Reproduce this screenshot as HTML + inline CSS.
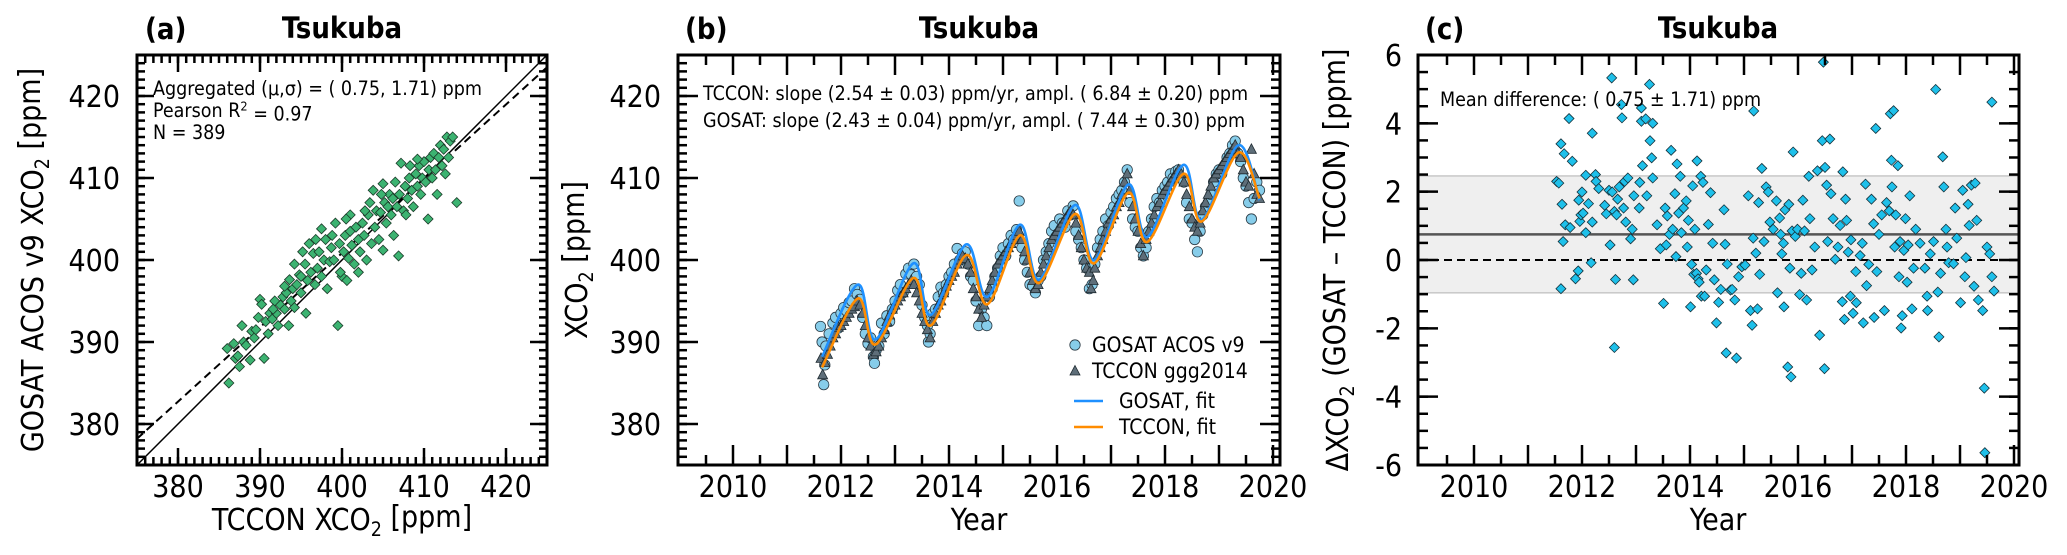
<!DOCTYPE html>
<html><head><meta charset="utf-8"><title>Tsukuba GOSAT vs TCCON</title>
<style>
html,body{margin:0;padding:0;background:#fff;}
svg{display:block;font-family:"DejaVu Sans Condensed","DejaVu Sans","Liberation Sans",sans-serif;font-stretch:condensed;}
</style></head>
<body>
<svg id="fig" xmlns="http://www.w3.org/2000/svg" width="2067" height="555" viewBox="0 0 2067 555">
<defs>
<clipPath id="clipA"><rect x="137" y="55" width="410" height="410"/></clipPath>
<clipPath id="clipB"><rect x="678" y="55" width="602" height="410"/></clipPath>
<clipPath id="clipC"><rect x="1418" y="55" width="601" height="410"/></clipPath>
</defs>
</svg>
<script>
// ---------- Panel (a) data: TCCON vs GOSAT ----------
const scatterTccon = [386.0,386.2,386.8,387.0,387.3,387.5,387.8,388.0,388.3,389.0,389.3,389.5,389.8,390.0,390.2,390.5,390.7,391.0,391.2,391.5,391.8,392.0,392.2,392.5,392.8,393.0,393.2,393.5,393.6,393.8,394.0,394.2,394.5,394.8,395.0,395.2,395.5,395.6,395.8,396.0,396.2,396.5,396.7,397.0,397.2,397.5,397.8,398.0,398.2,398.5,398.7,399.0,399.2,399.5,399.7,400.0,400.2,400.4,400.6,400.8,401.0,401.2,401.5,401.7,402.0,402.2,402.5,402.7,403.0,403.2,403.4,403.6,403.8,404.0,404.2,404.5,404.7,405.0,405.2,405.4,405.6,405.8,406.0,406.2,406.5,406.7,406.9,407.0,407.2,407.5,407.7,408.0,408.2,408.5,408.7,409.0,409.2,409.4,409.6,409.8,410.0,410.2,410.5,410.6,410.8,411.0,411.2,411.4,411.6,411.8,412.0,412.2,412.4,412.6,412.8,413.0,413.2,413.5,414.0,401.0,402.8,399.8,398.8,400.5,404.8,406.3,408.3,409.2,397.5,395.0,394.2,391.6,388.8,393.0,396.8,402.0,405.0,407.8];
const scatterGosat = [389.2,385.0,389.8,388.0,388.3,387.0,392.0,390.0,389.6,391.3,390.5,391.5,393.0,395.2,394.6,388.0,392.5,391.0,393.5,392.8,395.0,393.5,392.0,394.5,395.5,394.0,396.0,392.0,397.6,395.0,396.5,394.2,397.0,398.2,396.0,401.0,399.5,393.5,397.5,402.0,398.5,400.8,397.0,399.0,401.0,398.0,400.0,402.5,396.5,399.8,401.5,400.0,404.5,392.0,402.0,398.0,401.0,403.0,397.5,400.2,403.5,401.8,399.5,404.0,402.5,401.0,404.5,403.0,400.0,405.5,407.0,402.0,408.5,404.0,406.0,402.5,405.8,409.3,407.0,404.5,406.5,408.0,405.5,407.5,409.5,406.5,400.5,408.0,411.8,406.0,409.0,407.5,410.0,408.5,406.5,410.5,409.0,411.5,408.0,410.0,412.0,409.5,405.0,411.0,412.5,410.0,413.0,411.0,408.0,412.5,414.0,411.5,413.5,410.5,415.0,412.5,414.5,415.0,407.0,405.5,406.0,398.5,403.0,405.0,408.0,403.0,411.5,412.3,403.8,398.0,399.5,394.0,387.8,396.8,402.5,398.5,401.2,405.5];
const axisTicksA = [380,390,400,410,420];

// ---------- Panel (b) data: time series ----------
const gosatYears = [2011.62,2011.65,2011.68,2011.70,2011.72,2011.78,2011.85,2011.9,2011.95,2012.0,2012.05,2012.1,2012.15,2012.2,2012.25,2012.3,2012.35,2012.4,2012.45,2012.5,2012.55,2012.6,2012.62,2012.65,2012.7,2012.75,2012.8,2012.85,2012.9,2012.95,2013.0,2013.05,2013.1,2013.15,2013.2,2013.25,2013.3,2013.32,2013.35,2013.4,2013.45,2013.5,2013.55,2013.6,2013.62,2013.65,2013.7,2013.75,2013.8,2013.85,2013.9,2013.95,2014.0,2014.05,2014.1,2014.15,2014.2,2014.25,2014.3,2014.35,2014.4,2014.45,2014.5,2014.55,2014.6,2014.65,2014.7,2014.75,2014.8,2014.85,2014.9,2014.95,2015.0,2015.05,2015.1,2015.15,2015.2,2015.25,2015.3,2015.35,2015.4,2015.45,2015.5,2015.55,2015.6,2015.65,2015.7,2015.75,2015.8,2015.85,2015.9,2015.95,2016.0,2016.05,2016.1,2016.15,2016.2,2016.25,2016.3,2016.35,2016.4,2016.45,2016.5,2016.55,2016.6,2016.65,2016.7,2016.75,2016.8,2016.85,2016.9,2016.95,2017.0,2017.05,2017.1,2017.15,2017.2,2017.25,2017.3,2017.35,2017.4,2017.45,2017.5,2017.55,2017.6,2017.65,2017.7,2017.75,2017.8,2017.85,2017.9,2017.95,2018.0,2018.05,2018.1,2018.15,2018.2,2018.25,2018.3,2018.35,2018.4,2018.45,2018.5,2018.55,2018.6,2018.65,2018.7,2018.75,2018.8,2018.85,2018.9,2018.95,2019.0,2019.05,2019.1,2019.15,2019.2,2019.25,2019.3,2019.35,2019.4,2019.45,2019.5,2019.55,2019.6,2019.65,2019.7,2019.75];
const gosatValues = [391.9,390.0,384.8,387.2,389.5,391.0,392.3,393.0,391.7,393.5,394.2,393.8,394.8,395.0,396.5,395.8,395.2,393.0,391.0,389.8,390.5,388.2,387.4,389.0,389.5,392.3,391.0,393.2,392.5,394.0,395.0,396.3,397.0,396.0,398.3,399.0,398.2,397.2,399.5,398.0,397.0,394.5,393.0,392.0,390.0,391.0,393.5,394.0,395.5,396.7,396.0,397.0,398.0,398.5,399.5,401.4,400.0,400.8,401.0,399.5,398.0,397.5,395.0,392.0,394.0,393.0,392.0,395.5,396.5,398.0,399.0,400.5,401.5,400.5,402.0,403.0,402.5,403.7,407.2,401.5,400.0,398.5,397.0,396.8,396.0,397.5,398.0,400.0,401.0,402.0,403.5,404.2,403.0,405.0,404.5,404.0,406.0,405.5,406.6,403.5,402.5,401.5,400.0,399.0,396.5,397.0,399.5,401.5,402.5,403.5,405.0,404.2,405.8,406.5,407.5,408.0,408.5,409.5,411.0,407.0,405.0,404.0,403.5,401.5,400.5,401.5,403.5,405.0,406.5,407.5,407.0,408.5,409.0,409.5,410.5,410.0,410.8,411.0,410.0,409.5,407.0,405.0,404.5,402.5,401.0,403.5,405.5,406.5,407.0,408.0,409.5,410.5,411.0,410.5,411.5,412.5,413.0,414.0,414.5,413.0,412.0,410.0,409.0,407.0,405.0,407.5,409.5,408.5];
const tcconYears = [2011.63,2011.66,2011.7,2011.75,2011.8,2011.85,2011.9,2011.95,2012.0,2012.05,2012.1,2012.15,2012.2,2012.25,2012.3,2012.35,2012.4,2012.45,2012.5,2012.55,2012.6,2012.65,2012.7,2012.75,2012.8,2012.85,2012.9,2012.95,2013.0,2013.05,2013.1,2013.15,2013.2,2013.25,2013.3,2013.35,2013.4,2013.45,2013.5,2013.55,2013.6,2013.65,2013.7,2013.75,2013.8,2013.85,2013.9,2013.95,2014.0,2014.05,2014.1,2014.15,2014.2,2014.25,2014.3,2014.35,2014.4,2014.45,2014.5,2014.55,2014.6,2014.65,2014.7,2014.75,2014.8,2014.85,2014.9,2014.95,2015.0,2015.05,2015.1,2015.15,2015.2,2015.25,2015.3,2015.35,2015.4,2015.45,2015.5,2015.55,2015.6,2015.65,2015.7,2015.75,2015.8,2015.85,2015.9,2015.95,2016.0,2016.05,2016.1,2016.15,2016.2,2016.25,2016.3,2016.35,2016.4,2016.45,2016.5,2016.55,2016.6,2016.63,2016.67,2016.7,2016.75,2016.8,2016.85,2016.9,2016.95,2017.0,2017.05,2017.1,2017.15,2017.2,2017.25,2017.3,2017.35,2017.4,2017.45,2017.5,2017.55,2017.6,2017.65,2017.7,2017.75,2017.8,2017.85,2017.9,2017.95,2018.0,2018.05,2018.1,2018.15,2018.2,2018.25,2018.3,2018.35,2018.4,2018.45,2018.5,2018.55,2018.6,2018.65,2018.7,2018.75,2018.8,2018.85,2018.9,2018.95,2019.0,2019.05,2019.1,2019.15,2019.2,2019.25,2019.3,2019.35,2019.4,2019.45,2019.5,2019.55,2019.6,2019.65,2019.7,2019.75];
const tcconValues = [388.0,386.0,387.5,388.5,389.5,390.5,391.0,391.8,392.0,392.5,393.0,393.5,394.0,394.3,395.0,394.5,393.5,392.0,390.5,389.5,388.5,388.8,389.5,390.5,391.5,392.5,393.3,394.0,394.5,395.0,395.5,396.0,396.5,397.0,397.5,397.0,396.0,395.0,393.5,392.5,391.5,390.5,392.5,393.5,394.5,395.0,396.0,396.8,397.5,398.0,398.5,399.5,400.0,400.5,400.2,399.5,398.5,396.5,395.5,394.0,393.0,394.5,395.5,396.5,397.5,398.5,399.5,400.0,400.5,401.0,401.5,402.0,402.5,403.0,403.5,402.5,401.0,400.0,398.5,397.5,396.5,397.0,398.5,399.5,400.5,401.5,402.5,403.0,403.5,404.0,404.5,405.0,405.5,406.0,405.5,404.5,403.0,401.5,400.0,399.0,398.5,396.5,397.5,399.0,400.5,401.5,402.5,403.5,404.5,405.0,405.5,406.5,407.0,408.0,409.5,410.5,408.5,406.5,405.0,403.5,402.0,400.5,402.5,403.5,404.5,405.5,406.5,407.0,408.0,408.5,409.0,409.5,410.0,410.5,411.0,410.5,409.5,408.0,406.5,405.0,404.0,403.5,404.5,406.0,407.0,408.0,409.0,410.0,410.5,411.0,411.5,412.0,412.5,413.0,413.5,414.0,413.0,412.5,411.0,409.5,409.0,413.5,410.5,408.0,407.5];
const fitYears = [2011.65,2012.31,2012.64,2013.34,2013.66,2014.32,2014.71,2015.31,2015.67,2016.33,2016.69,2017.32,2017.67,2018.34,2018.68,2019.36,2019.75];
const gosatFit = [388.2,397.0,390.3,399.6,393.3,401.9,395.5,404.3,397.6,406.7,400.0,409.2,402.8,411.6,404.9,414.0,407.3];
const tcconFit = [386.9,395.3,389.7,397.8,392.0,400.6,394.6,403.0,397.2,405.6,399.6,408.2,402.2,410.5,404.7,413.1,407.5];
const yearTicks = [2010,2012,2014,2016,2018,2020];
const ppmTicks = [380,390,400,410,420];

// ---------- Panel (c) data: differences ----------
const diffYears = [2011.53,2011.57,2011.61,2011.63,2011.65,2011.67,2011.69,2011.61,2011.76,2011.82,2011.78,2011.88,2011.93,2011.94,2011.96,2011.98,2012.00,2012.02,2012.07,2012.07,2012.12,2012.17,2012.19,2012.19,2012.25,2012.26,2012.31,2012.42,2012.45,2012.50,2012.52,2012.55,2012.56,2012.60,2012.62,2012.60,2012.64,2012.66,2012.69,2012.73,2012.74,2012.77,2012.79,2012.81,2012.85,2012.90,2012.93,2012.95,2012.96,2013.06,2013.07,2013.10,2013.10,2013.12,2013.18,2013.20,2013.25,2013.26,2013.29,2013.31,2013.31,2013.39,2013.45,2013.51,2013.54,2013.56,2013.58,2013.62,2013.65,2013.68,2013.72,2013.74,2013.76,2013.79,2013.82,2013.84,2013.88,2013.93,2013.95,2013.97,2014.01,2014.03,2014.05,2014.07,2014.09,2014.12,2014.13,2014.15,2014.17,2014.20,2014.21,2014.24,2014.27,2014.30,2014.34,2014.38,2014.42,2014.45,2014.49,2014.53,2014.57,2014.63,2014.65,2014.67,2014.69,2014.75,2014.78,2014.83,2014.86,2014.90,2014.96,2015.02,2015.08,2015.12,2015.15,2015.17,2015.18,2015.22,2015.25,2015.27,2015.29,2015.33,2015.37,2015.41,2015.45,2015.48,2015.54,2015.60,2015.62,2015.66,2015.68,2015.70,2015.73,2015.74,2015.76,2015.81,2015.83,2015.85,2015.87,2015.91,2015.89,2015.95,2015.99,2016.03,2016.06,2016.09,2016.12,2016.16,2016.20,2016.22,2016.26,2016.31,2016.36,2016.40,2016.45,2016.47,2016.49,2016.50,2016.53,2016.55,2016.59,2016.61,2016.65,2016.69,2016.74,2016.78,2016.82,2016.83,2016.86,2016.88,2016.90,2016.93,2016.97,2016.98,2017.02,2017.07,2017.08,2017.15,2017.19,2017.21,2017.25,2017.27,2017.31,2017.36,2017.40,2017.41,2017.44,2017.46,2017.50,2017.55,2017.60,2017.64,2017.69,2017.71,2017.73,2017.74,2017.77,2017.79,2017.81,2017.85,2017.87,2017.89,2017.91,2017.93,2017.96,2017.99,2018.02,2018.04,2018.07,2018.11,2018.14,2018.18,2018.26,2018.35,2018.39,2018.40,2018.45,2018.51,2018.55,2018.59,2018.61,2018.64,2018.68,2018.70,2018.74,2018.76,2018.79,2018.88,2018.91,2018.94,2019.01,2019.05,2019.09,2019.11,2019.15,2019.17,2019.21,2019.26,2019.28,2019.31,2019.34,2019.42,2019.45,2019.46,2019.50,2019.55,2019.59,2019.59,2019.63];
const diffValues = [2.30,2.25,3.40,1.63,0.54,3.11,1.03,-0.84,4.14,2.89,0.95,-0.55,-0.32,1.75,1.13,1.32,1.99,1.37,2.48,0.80,1.65,-0.08,3.71,1.11,2.50,2.30,2.09,1.60,1.35,2.04,0.44,5.33,1.99,1.42,-0.57,-2.56,1.32,1.78,2.14,4.55,4.16,1.52,2.30,1.11,2.40,0.62,0.90,-0.58,1.88,1.52,2.27,4.45,4.06,2.76,4.13,1.88,5.14,3.49,2.99,2.40,4.00,1.03,0.33,-1.27,1.52,0.44,1.29,0.75,3.21,0.90,1.94,0.10,2.81,1.37,2.45,0.80,1.52,1.73,0.38,1.16,-1.37,-0.13,2.17,-0.42,0.90,-0.39,2.90,-0.55,-0.65,2.45,-1.06,2.27,-1.06,-0.29,1.04,1.97,0.49,-0.58,-1.84,-1.24,-0.86,1.47,0.46,-2.72,-0.12,-0.88,-0.86,-1.17,-2.87,-0.49,-0.20,-0.15,1.88,-1.48,-1.91,0.64,4.36,0.20,-1.43,1.68,-0.42,2.68,0.54,2.14,1.99,1.11,0.90,1.73,-0.96,1.23,0.75,0.18,0.49,-1.37,1.47,-3.13,1.63,-0.24,-3.42,3.16,0.85,0.69,0.90,-1.01,-0.39,1.75,0.85,-1.17,2.45,1.21,-0.29,0.38,2.61,-2.20,3.49,5.79,-3.18,2.71,2.19,0.54,3.54,1.94,1.21,0.02,0.38,1.01,-1.22,2.58,-1.74,1.78,1.16,0.23,-1.06,0.59,-1.56,-0.34,-1.25,0.13,0.49,-1.84,2.22,-0.75,-0.13,1.78,1.06,-1.68,3.85,-0.34,0.75,1.32,-1.48,1.68,1.44,4.28,2.92,2.14,4.37,0.38,1.32,2.76,-0.49,0.54,-1.99,-1.63,0.28,1.21,-0.65,0.44,1.88,-1.43,-0.24,0.90,0.49,-0.24,-1.06,-1.48,0.18,0.54,4.99,-0.94,-2.25,-0.39,3.02,2.14,0.90,0.38,-0.08,-0.11,1.52,0.64,-1.25,2.04,-0.49,0.07,1.63,1.01,2.19,-0.77,2.25,1.16,-1.17,-1.48,-3.75,-5.64,0.38,0.18,4.62,-0.49,-0.91];
const diffTicks = [-6,-4,-2,0,2,4,6];
const meanDiff = 0.75;
const stdDiff = 1.71;

// ---------- drawing ----------
const NS = 'http://www.w3.org/2000/svg';
const svg = document.getElementById('fig');
function mk(tag, attrs, parent) {
  const e = document.createElementNS(NS, tag);
  for (const k in attrs) e.setAttribute(k, attrs[k]);
  (parent || svg).appendChild(e);
  return e;
}
function group(name, parent) {
  const g = mk('g', {}, parent);
  
  
  return g;
}
function text(str, x, y, opts, parent) {
  const t = mk('text', Object.assign({x: x, y: y, 'font-size': 30, fill: '#000'}, opts || {}), parent);
  t.textContent = str;
  return t;
}
function ticksX(g, box, vals, xs, len) {
  vals.forEach(v => {
    const x = xs(v);
    if (x < box.x0 - 0.5 || x > box.x1 + 0.5) return;
    const a = mk('line', {x1: x, x2: x, y1: box.y1, y2: box.y1 - len, stroke: '#000', 'stroke-width': 2.5}, g);
    
    
    const b = mk('line', {x1: x, x2: x, y1: box.y0, y2: box.y0 + len, stroke: '#000', 'stroke-width': 2.5}, g);
    
    
  });
}
function ticksY(g, box, vals, ys, len) {
  vals.forEach(v => {
    const y = ys(v);
    if (y < box.y0 - 0.5 || y > box.y1 + 0.5) return;
    const a = mk('line', {x1: box.x0, x2: box.x0 + len, y1: y, y2: y, stroke: '#000', 'stroke-width': 2.5}, g);
    
    
    const b = mk('line', {x1: box.x1, x2: box.x1 - len, y1: y, y2: y, stroke: '#000', 'stroke-width': 2.5}, g);
    
    
  });
}
function range(a, b, step) { const r = []; for (let v = a; v <= b + 1e-9; v += step) r.push(+v.toFixed(4)); return r; }
function diamond(x, y, h) { return `${x},${y-h} ${x+h},${y} ${x},${y+h} ${x-h},${y}`; }
function frame(g, box) {
  const r = mk('rect', {x: box.x0, y: box.y0, width: box.x1 - box.x0, height: box.y1 - box.y0, fill: 'none', stroke: '#000', 'stroke-width': 3}, g);
  
  
}
function smoothPath(xsArr, ysArr) {
  let d = `M${xsArr[0]},${ysArr[0]}`;
  const n = xsArr.length;
  for (let i = 0; i < n - 1; i++) {
    const x0 = xsArr[Math.max(i-1,0)], y0 = ysArr[Math.max(i-1,0)];
    const x1 = xsArr[i], y1 = ysArr[i], x2 = xsArr[i+1], y2 = ysArr[i+1];
    const x3 = xsArr[Math.min(i+2,n-1)], y3 = ysArr[Math.min(i+2,n-1)];
    const c1x = x1 + (x2 - x0) / 6, c1y = y1 + (y2 - y0) / 6;
    const c2x = x2 - (x3 - x1) / 6, c2y = y2 - (y3 - y1) / 6;
    d += ` C${c1x},${c1y} ${c2x},${c2y} ${x2},${y2}`;
  }
  return d;
}
function sub2(t) {
  const s = mk('tspan', {'font-size': '0.65em', dy: '0.3em'}, t);
  s.textContent = '2';
  return s;
}
const ANN = 19.5;
const TITLE = 29;

// ===== Panel A =====
const boxA = {x0: 137, x1: 547, y0: 55, y1: 465};
const xA = v => 137 + (v - 375) * 8.2;
const yA = v => 465 - (v - 375) * 8.2;
const gA = group('panel-a-scatter');
{
  const t1 = text('(a)', 145, 39, {'font-size': TITLE, 'font-weight': 'bold'}, gA);
   
  const t2 = text('Tsukuba', 342, 38, {'font-size': TITLE, 'font-weight': 'bold', 'text-anchor': 'middle'}, gA);
   
  const pts = group('scatter-points', gA);
  pts.setAttribute('clip-path', 'url(#clipA)');
  const one = mk('line', {x1: xA(375), y1: yA(375), x2: xA(425), y2: yA(425), stroke: '#000', 'stroke-width': 1.5}, pts);
   
  const reg = mk('line', {x1: xA(375), y1: yA(378.2), x2: xA(425), y2: yA(423.5), stroke: '#000', 'stroke-width': 2, 'stroke-dasharray': '8,5'}, pts);
   
  scatterTccon.forEach((v, i) => {
    const p = mk('polygon', {points: diamond(xA(v), yA(scatterGosat[i]), 5), fill: '#3cb371', stroke: '#1a3a28', 'stroke-width': 0.8}, pts);
    
    
  });
  const ax = group('axis-ticks-a', gA);
  ticksX(ax, boxA, range(375, 425, 1), xA, 8);
  ticksX(ax, boxA, axisTicksA, xA, 17);
  ticksY(ax, boxA, range(375, 425, 1), yA, 8);
  ticksY(ax, boxA, axisTicksA, yA, 17);
  axisTicksA.forEach(v => {
    const tx = text(String(v), xA(v), 497, {'text-anchor': 'middle'}, ax);
     
    const ty = text(String(v), 120, yA(v) + 11, {'text-anchor': 'end'}, ax);
     
  });
  const xl = text('TCCON XCO', 342, 530, {'text-anchor': 'middle'}, gA);
  sub2(xl);
  const xr = mk('tspan', {dy: '-0.3em'}, xl); xr.textContent = ' [ppm]';
   
  const yl = text('GOSAT ACOS v9 XCO', 0, 0, {'text-anchor': 'middle', transform: 'translate(43,260) rotate(-90)'}, gA);
  sub2(yl);
  const yr = mk('tspan', {dy: '-0.3em'}, yl); yr.textContent = ' [ppm]';
   
  const ann = group('stats-annotation-a', gA);
  const l1 = text('Aggregated (μ,σ) = ( 0.75, 1.71) ppm', 153, 95, {'font-size': ANN}, ann);
   
  const l2 = text('Pearson R', 153, 117, {'font-size': ANN}, ann);
  const sup = mk('tspan', {'font-size': '0.65em', dy: '-0.5em'}, l2); sup.textContent = '2';
  const l2b = mk('tspan', {dy: '0.5em'}, l2); l2b.textContent = ' = 0.97';
   
  const l3 = text('N =  389', 153, 139, {'font-size': ANN}, ann);
   
  frame(gA, boxA);
}

// ===== Panel B =====
const boxB = {x0: 678, x1: 1280, y0: 55, y1: 465};
const xB = yr => 733 + (yr - 2010) * 54;
const yB = v => 465 - (v - 375) * 8.2;
const gB = group('panel-b-timeseries');
{
  const t1 = text('(b)', 685, 39, {'font-size': TITLE, 'font-weight': 'bold'}, gB);
   
  const t2 = text('Tsukuba', 979, 38, {'font-size': TITLE, 'font-weight': 'bold', 'text-anchor': 'middle'}, gB);
   
  const pts = group('series-marks', gB);
  pts.setAttribute('clip-path', 'url(#clipB)');
  gosatYears.forEach((yr, i) => {
    const c = mk('circle', {cx: xB(yr), cy: yB(gosatValues[i]), r: 5.2, fill: '#87cdea', stroke: '#2a3a44', 'stroke-width': 0.8}, pts);
    
    
  });
  tcconYears.forEach((yr, i) => {
    const x = xB(yr), y = yB(tcconValues[i]);
    const p = mk('polygon', {points: `${x},${y-5.5} ${x+5},${y+4} ${x-5},${y+4}`, fill: '#5e6e79', stroke: '#1e2a30', 'stroke-width': 0.8}, pts);
    
    
  });
  const fx = fitYears.map(xB);
  const gf = mk('path', {d: smoothPath(fx, gosatFit.map(yB)), fill: 'none', stroke: '#1e90ff', 'stroke-width': 2.6}, pts);
   
  const tf = mk('path', {d: smoothPath(fx, tcconFit.map(yB)), fill: 'none', stroke: '#ff8c00', 'stroke-width': 2.6}, pts);
   
  const ax = group('axis-ticks-b', gB);
  ticksX(ax, boxB, range(2009.5, 2020, 1), xB, 10);
  ticksX(ax, boxB, range(2010, 2020, 1), xB, 20);
  ticksY(ax, boxB, range(375, 425, 1), yB, 9);
  ticksY(ax, boxB, ppmTicks, yB, 20);
  yearTicks.forEach(v => {
    const tx = text(String(v), xB(v), 497, {'text-anchor': 'middle'}, ax);
     
  });
  ppmTicks.forEach(v => {
    const ty = text(String(v), 661, yB(v) + 11, {'text-anchor': 'end'}, ax);
     
  });
  const xl = text('Year', 979, 530, {'text-anchor': 'middle'}, gB);
   
  const yl = text('XCO', 0, 0, {'text-anchor': 'middle', transform: 'translate(587,260) rotate(-90)'}, gB);
  sub2(yl);
  const yr2 = mk('tspan', {dy: '-0.3em'}, yl); yr2.textContent = ' [ppm]';
   
  const ann = group('trend-annotation-b', gB);
  const a1 = text('TCCON: slope (2.54 ± 0.03) ppm/yr, ampl. ( 6.84 ± 0.20) ppm', 703, 100, {'font-size': ANN}, ann);
   
  const a2 = text('GOSAT: slope (2.43 ± 0.04) ppm/yr, ampl. ( 7.44 ± 0.30) ppm', 703, 127, {'font-size': ANN}, ann);
   
  const lg = group('legend', gB);
  const e1 = group('legend-entry-gosat', lg);
  mk('circle', {cx: 1075, cy: 345, r: 5.2, fill: '#87cdea', stroke: '#2a3a44', 'stroke-width': 0.8}, e1);
  text('GOSAT ACOS v9', 1092, 352, {'font-size': 21}, e1);
  const e2 = group('legend-entry-tccon', lg);
  mk('polygon', {points: '1075,365.5 1080,375 1070,375', fill: '#5e6e79', stroke: '#1e2a30', 'stroke-width': 0.8}, e2);
  text('TCCON ggg2014', 1092, 378, {'font-size': 21}, e2);
  const e3 = group('legend-entry-gosat-fit', lg);
  mk('line', {x1: 1074, x2: 1103, y1: 401, y2: 401, stroke: '#1e90ff', 'stroke-width': 2.6}, e3);
  text('GOSAT, fit', 1119, 408, {'font-size': 21}, e3);
  const e4 = group('legend-entry-tccon-fit', lg);
  mk('line', {x1: 1074, x2: 1103, y1: 427, y2: 427, stroke: '#ff8c00', 'stroke-width': 2.6}, e4);
  text('TCCON, fit', 1119, 434, {'font-size': 21}, e4);
  frame(gB, boxB);
}

// ===== Panel C =====
const boxC = {x0: 1418, x1: 2019, y0: 55, y1: 465};
const xC = yr => 1474 + (yr - 2010) * 54;
const yC = v => 260 - v * 34.17;
const gC = group('panel-c-difference');
{
  const t1 = text('(c)', 1425, 39, {'font-size': TITLE, 'font-weight': 'bold'}, gC);
   
  const t2 = text('Tsukuba', 1718, 38, {'font-size': TITLE, 'font-weight': 'bold', 'text-anchor': 'middle'}, gC);
   
  const pts = group('difference-marks', gC);
  pts.setAttribute('clip-path', 'url(#clipC)');
  const band = mk('rect', {x: boxC.x0, width: boxC.x1 - boxC.x0, y: yC(meanDiff + stdDiff), height: yC(meanDiff - stdDiff) - yC(meanDiff + stdDiff), fill: '#efefef', stroke: '#c8c8c8', 'stroke-width': 1.5}, pts);
   
  const ml = mk('line', {x1: boxC.x0, x2: boxC.x1, y1: yC(meanDiff), y2: yC(meanDiff), stroke: '#555', 'stroke-width': 2.5}, pts);
   
  const zl = mk('line', {x1: boxC.x0, x2: boxC.x1, y1: yC(0), y2: yC(0), stroke: '#000', 'stroke-width': 2, 'stroke-dasharray': '8,5'}, pts);
   
  diffYears.forEach((yr, i) => {
    const p = mk('polygon', {points: diamond(xC(yr), yC(diffValues[i]), 5), fill: '#1ec0ea', stroke: '#14323c', 'stroke-width': 0.8}, pts);
    
    
  });
  const ax = group('axis-ticks-c', gC);
  ticksX(ax, boxC, range(2009.5, 2020, 1), xC, 10);
  ticksX(ax, boxC, range(2010, 2020, 1), xC, 20);
  ticksY(ax, boxC, range(-6, 6, 0.5), yC, 10);
  ticksY(ax, boxC, diffTicks, yC, 20);
  yearTicks.forEach(v => {
    const tx = text(String(v), xC(v), 497, {'text-anchor': 'middle'}, ax);
     
  });
  diffTicks.forEach(v => {
    const ty = text(String(v), 1402, yC(v) + 11, {'text-anchor': 'end'}, ax);
     
  });
  const xl = text('Year', 1718, 530, {'text-anchor': 'middle'}, gC);
   
  const yl = text('ΔXCO', 0, 0, {'text-anchor': 'middle', transform: 'translate(1348,260) rotate(-90)'}, gC);
  sub2(yl);
  const yr3 = mk('tspan', {dy: '-0.3em'}, yl); yr3.textContent = ' (GOSAT – TCCON) [ppm]';
   
  const a1 = text('Mean difference: ( 0.75 ± 1.71) ppm', 1440, 106, {'font-size': ANN}, gC);
   
  frame(gC, boxC);
}
</script>
</body></html>
